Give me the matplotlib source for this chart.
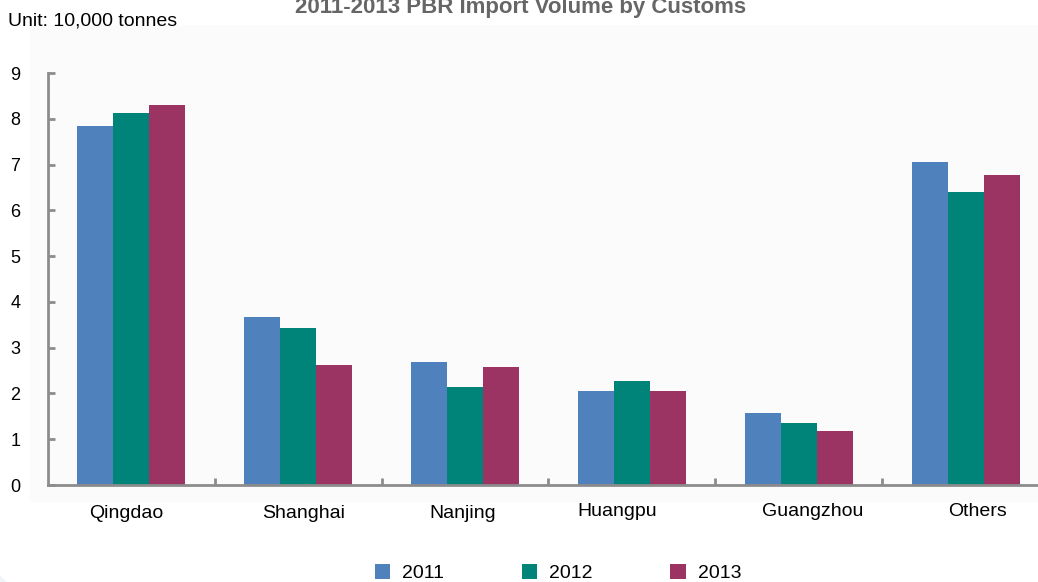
import matplotlib.pyplot as plt
from matplotlib.patches import Circle, Rectangle
import numpy as np

plt.rcParams['font.family'] = ['Liberation Sans', 'DejaVu Sans']

customs = ["Qingdao", "Shanghai", "Nanjing", "Huangpu", "Guangzhou", "Others"]
years = ["2011", "2012", "2013"]
vol_2011 = [7.84, 3.67, 2.69, 2.05, 1.57, 7.05]
vol_2012 = [8.13, 3.42, 2.14, 2.27, 1.35, 6.40]
vol_2013 = [8.30, 2.62, 2.58, 2.05, 1.18, 6.77]
yticks = [0, 1, 2, 3, 4, 5, 6, 7, 8, 9]

colors = ["#4F81BD", "#00847A", "#9B3363"]
grey = "#8C8C8C"

fig = plt.figure(figsize=(10.38, 5.82), dpi=100)

# faint decoration behind the chart
fig.patches.append(Circle((-300 / 1038, -100 / 582), 355 / 1038, transform=fig.transFigure,
                          facecolor="#EEF5F9", edgecolor="none", zorder=-10))
fig.patches.append(Rectangle((30 / 1038, 80 / 582), 1.0, 0.82, transform=fig.transFigure,
                             facecolor="#FBFBFB", edgecolor="none", zorder=-9))

ax = fig.add_axes([48 / 1038, 97 / 582, 1001 / 1038, 412 / 582])
ax.set_facecolor("none")

x = np.arange(len(customs))
w = 0.216
for k, (vals, yr) in enumerate(zip([vol_2011, vol_2012, vol_2013], years)):
    ax.bar(x + (k - 1) * w, vals, width=w, color=colors[k], label=yr, zorder=2)

ax.set_xlim(-0.5, len(customs) - 0.5)
ax.set_ylim(0, 9)
ax.set_yticks(yticks)
ax.tick_params(axis="y", direction="in", length=5, width=2, color=grey,
               labelsize=13, pad=27)
for t in ax.get_yticklabels():
    t.set_horizontalalignment("left")

ax.set_xticks(x[:-1] + 0.5)
ax.set_xticklabels([])
ax.tick_params(axis="x", direction="in", length=5, width=2, color=grey)

for s in ["top", "right"]:
    ax.spines[s].set_visible(False)
for s in ["left", "bottom"]:
    ax.spines[s].set_color(grey)
    ax.spines[s].set_linewidth(2)

# category labels, slightly off-centre as in the original
label_dx = [-5, 5, -2, -15, 14, 12]
label_dy = [-28, -28, -28, -26, -26, -26]
for i, name in enumerate(customs):
    ax.annotate(name, xy=(i, 0), xytext=(label_dx[i], label_dy[i]),
                textcoords="offset pixels", ha="center", va="center", fontsize=14)

fig.text(521 / 1038, 1 - 13 / 582, "2011-2013 PBR Import Volume by Customs",
         ha="center", va="baseline", fontsize=16, fontweight="bold", color="#666666")
fig.text(8 / 1038, 1 - 26 / 582, "Unit: 10,000 tonnes", ha="left", va="baseline", fontsize=14)

fig.legend(loc="center", bbox_to_anchor=(558 / 1038, 9 / 582), ncol=3, frameon=False,
           fontsize=14, handlelength=0.8, handleheight=0.8, handletextpad=0.6,
           columnspacing=4.0)

fig.savefig("out.png", dpi=100)
